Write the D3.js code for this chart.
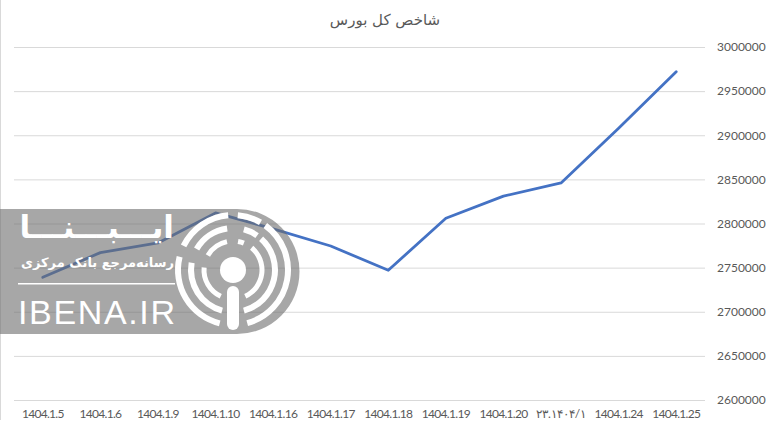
<!DOCTYPE html>
<html>
<head>
<meta charset="utf-8">
<script src="https://cdn.jsdelivr.net/npm/d3@7/dist/d3.min.js"></script>
<style>
  html, body { margin: 0; padding: 0; background: #fff; }
  svg { display: block; }
</style>
</head>
<body>
<svg id="chart"></svg>
<script>
var width = 766;
var height = 427;

var title = 'شاخص کل بورس';
var dates = ['1404.1.5', '1404.1.6', '1404.1.9', '1404.1.10', '1404.1.16', '1404.1.17',
             '1404.1.18', '1404.1.19', '1404.1.20', '۲۳.۱۴۰۴/۱', '1404.1.24', '1404.1.25'];
var index = [2739000, 2767000, 2778000, 2812000, 2794000, 2774500,
             2747000, 2806000, 2831000, 2846000, 2908000, 2972000];
var yTicks = [2600000, 2650000, 2700000, 2750000, 2800000, 2850000, 2900000, 2950000, 3000000];

var font = 'Lato, "Open Sans", sans-serif';
var svg = d3.select('#chart').attr('width', width).attr('height', height);

var xScale = d3.scaleBand().domain(dates).range([14, 705]);
var yScale = d3.scaleLinear().domain([2600000, 3000000]).range([400, 47]);

// frame on the left edge
svg.append('line')
    .attr('x1', 0.5).attr('x2', 0.5).attr('y1', 0).attr('y2', 420)
    .attr('stroke', '#d9d9d9');

var yAxis = d3.axisRight(yScale)
    .tickValues(yTicks)
    .tickSize(691)
    .tickPadding(12)
    .tickFormat(d3.format('d'));

var yG = svg.append('g')
    .attr('transform', 'translate(14,0)')
    .call(yAxis);
yG.select('.domain').remove();
yG.selectAll('line').attr('stroke', '#d9d9d9');
yG.selectAll('text').attr('fill', '#595959').style('font', '12px ' + font);

var xAxis = d3.axisBottom(xScale).tickSize(0).tickPadding(9);
var xG = svg.append('g')
    .attr('transform', 'translate(0,400)')
    .call(xAxis);
xG.select('.domain').remove();
xG.selectAll('text')
    .attr('fill', '#595959')
    .style('font', '12px ' + font)
    .style('letter-spacing', '-0.7px');

var line = d3.line()
    .x((d, i) => xScale(dates[i]) + xScale.bandwidth() / 2)
    .y(d => yScale(d));

svg.append('path')
    .datum(index)
    .attr('fill', 'none')
    .attr('stroke', '#4472c4')
    .attr('stroke-width', 2.8)
    .attr('stroke-linecap', 'round')
    .attr('stroke-linejoin', 'round')
    .attr('d', line);

svg.append('text')
    .attr('x', 385)
    .attr('y', 25)
    .attr('text-anchor', 'middle')
    .attr('fill', '#595959')
    .style('font', '15px "DejaVu Sans", sans-serif')
    .text(title);

// watermark, see-through so the line and grid show under it
var wm = svg.append('g');
wm.append('path')
    .attr('d', 'M0,209 H237 A62.5,62.5 0 0 1 237,334 H0 Z')
    .attr('fill', '#6c6c6c')
    .attr('fill-opacity', 0.6);

wm.append('text')
    .attr('x', 174).attr('y', 238)
    .attr('text-anchor', 'end')
    .attr('fill', '#fff')
    .style('font', 'bold 31px "DejaVu Sans", sans-serif')
    .text('ایـــبـــنـــا');

wm.append('text')
    .attr('x', 174).attr('y', 267)
    .attr('text-anchor', 'end')
    .attr('fill', '#fff')
    .style('font', 'bold 13px "DejaVu Sans", sans-serif')
    .text('رسانه‌مرجع بانک مرکزی');

wm.append('rect')
    .attr('x', 18).attr('y', 283).attr('width', 157).attr('height', 1.5)
    .attr('fill', '#fff');

wm.append('text')
    .attr('x', 18).attr('y', 324)
    .attr('fill', '#fff')
    .attr('textLength', 157)
    .attr('lengthAdjust', 'spacing')
    .style('font', '34px "Liberation Sans Narrow", sans-serif')
    .text('IBENA.IR');

var cx = 233, cy = 270;
var arc = d3.arc();
var rings = [
  {r: 29, w: 5, spans: [[-155, -85], [-60, -12], [10, 22], [40, 155]]},
  {r: 42, w: 6, spans: [[-165, -80], [-60, -8], [15, 35], [42, 165]]},
  {r: 55, w: 6, spans: [[-166, -76], [-64, -5], [5, 30], [36, 165]]}
];
rings.forEach(ring => {
  ring.spans.forEach(s => {
    wm.append('path')
      .attr('transform', `translate(${cx},${cy})`)
      .attr('fill', '#fff')
      .attr('d', arc({
        innerRadius: ring.r - ring.w / 2,
        outerRadius: ring.r + ring.w / 2,
        startAngle: s[0] * Math.PI / 180,
        endAngle: s[1] * Math.PI / 180,
        cornerRadius: ring.w / 2
      }));
  });
});
wm.append('circle').attr('cx', cx).attr('cy', cy).attr('r', 13).attr('fill', '#fff');
wm.append('rect')
    .attr('x', cx - 6).attr('y', 286).attr('width', 12).attr('height', 44).attr('rx', 6)
    .attr('fill', '#fff');
</script>
</body>
</html>
